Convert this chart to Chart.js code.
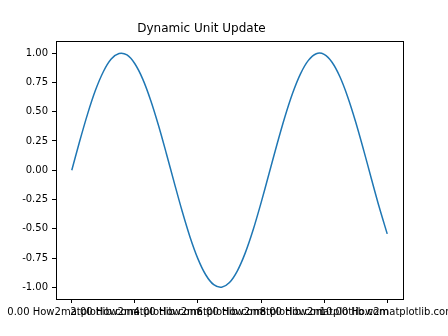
<!DOCTYPE html>
<html>
<head>
<meta charset="utf-8">
<script src="https://cdn.jsdelivr.net/npm/chart.js@4"></script>
<style>
  body { margin: 0; background: #fff; }
</style>
</head>
<body>
<canvas id="myChart" width="448" height="336"></canvas>
<script>
// data
const xValues = [0, 0.25, 0.5, 0.75, 1, 1.25, 1.5, 1.75, 2, 2.25, 2.5, 2.75, 3, 3.25, 3.5, 3.75,
  4, 4.25, 4.5, 4.75, 5, 5.25, 5.5, 5.75, 6, 6.25, 6.5, 6.75, 7, 7.25, 7.5, 7.75,
  8, 8.25, 8.5, 8.75, 9, 9.25, 9.5, 9.75, 10];
const yValues = [0, 0.247, 0.479, 0.682, 0.841, 0.949, 0.997, 0.984, 0.909, 0.778, 0.598, 0.382,
  0.141, -0.108, -0.351, -0.572, -0.757, -0.895, -0.978, -0.999, -0.959, -0.859, -0.706,
  -0.509, -0.279, -0.033, 0.215, 0.450, 0.657, 0.823, 0.938, 0.995, 0.989, 0.922, 0.798,
  0.624, 0.412, 0.174, -0.075, -0.319, -0.544];
const xTicks = [0, 2, 4, 6, 8, 10];
const yTicks = [-1, -0.75, -0.5, -0.25, 0, 0.25, 0.5, 0.75, 1];
const tickSuffix = " How2matplotlib.com";

// box around the plot area
const frame = {
  id: "frame",
  afterDraw(chart) {
    const { ctx, chartArea: a } = chart;
    ctx.save();
    ctx.strokeStyle = "#000";
    ctx.lineWidth = 1;
    ctx.strokeRect(Math.round(a.left) + 0.5, Math.round(a.top) + 0.5,
      Math.round(a.right - a.left), Math.round(a.bottom - a.top));
    ctx.restore();
  }
};

const font = { family: "DejaVu Sans", size: 10 };

new Chart(document.getElementById("myChart").getContext("2d"), {
  type: "line",
  data: {
    datasets: [{
      data: xValues.map((x, i) => ({ x: x, y: yValues[i] })),
      borderColor: "#1f77b4",
      borderWidth: 1.5,
      pointRadius: 0,
      tension: 0.3,
      fill: false
    }]
  },
  options: {
    responsive: false,
    animation: false,
    layout: { padding: { left: 0, right: 45, top: 0, bottom: 0 } },
    plugins: {
      legend: { display: false },
      tooltip: { enabled: false },
      title: {
        display: true,
        text: "Dynamic Unit Update",
        color: "#000",
        font: { family: "DejaVu Sans", size: 12, weight: "normal" },
        padding: { top: 22, bottom: 5 }
      }
    },
    scales: {
      x: {
        type: "linear",
        min: -0.5,
        max: 10.5,
        afterBuildTicks: s => { s.ticks = xTicks.map(v => ({ value: v })); },
        afterFit: s => { s.height = 37; s.paddingLeft = 0; s.paddingRight = 0; },
        grid: { drawOnChartArea: false, drawTicks: true, tickLength: 4, color: "#000" },
        border: { display: false },
        ticks: {
          autoSkip: false,
          maxRotation: 0,
          color: "#000",
          font: font,
          padding: 3,
          callback: v => v.toFixed(2) + tickSuffix
        }
      },
      y: {
        min: -1.1,
        max: 1.1,
        afterBuildTicks: s => { s.ticks = yTicks.map(v => ({ value: v })); },
        afterFit: s => { s.width = 56; s.paddingTop = 0; s.paddingBottom = 0; },
        grid: { drawOnChartArea: false, drawTicks: true, tickLength: 4, color: "#000" },
        border: { display: false },
        ticks: {
          color: "#000",
          font: font,
          padding: 4,
          callback: v => v.toFixed(2)
        }
      }
    }
  },
  plugins: [frame]
});
</script>
</body>
</html>
